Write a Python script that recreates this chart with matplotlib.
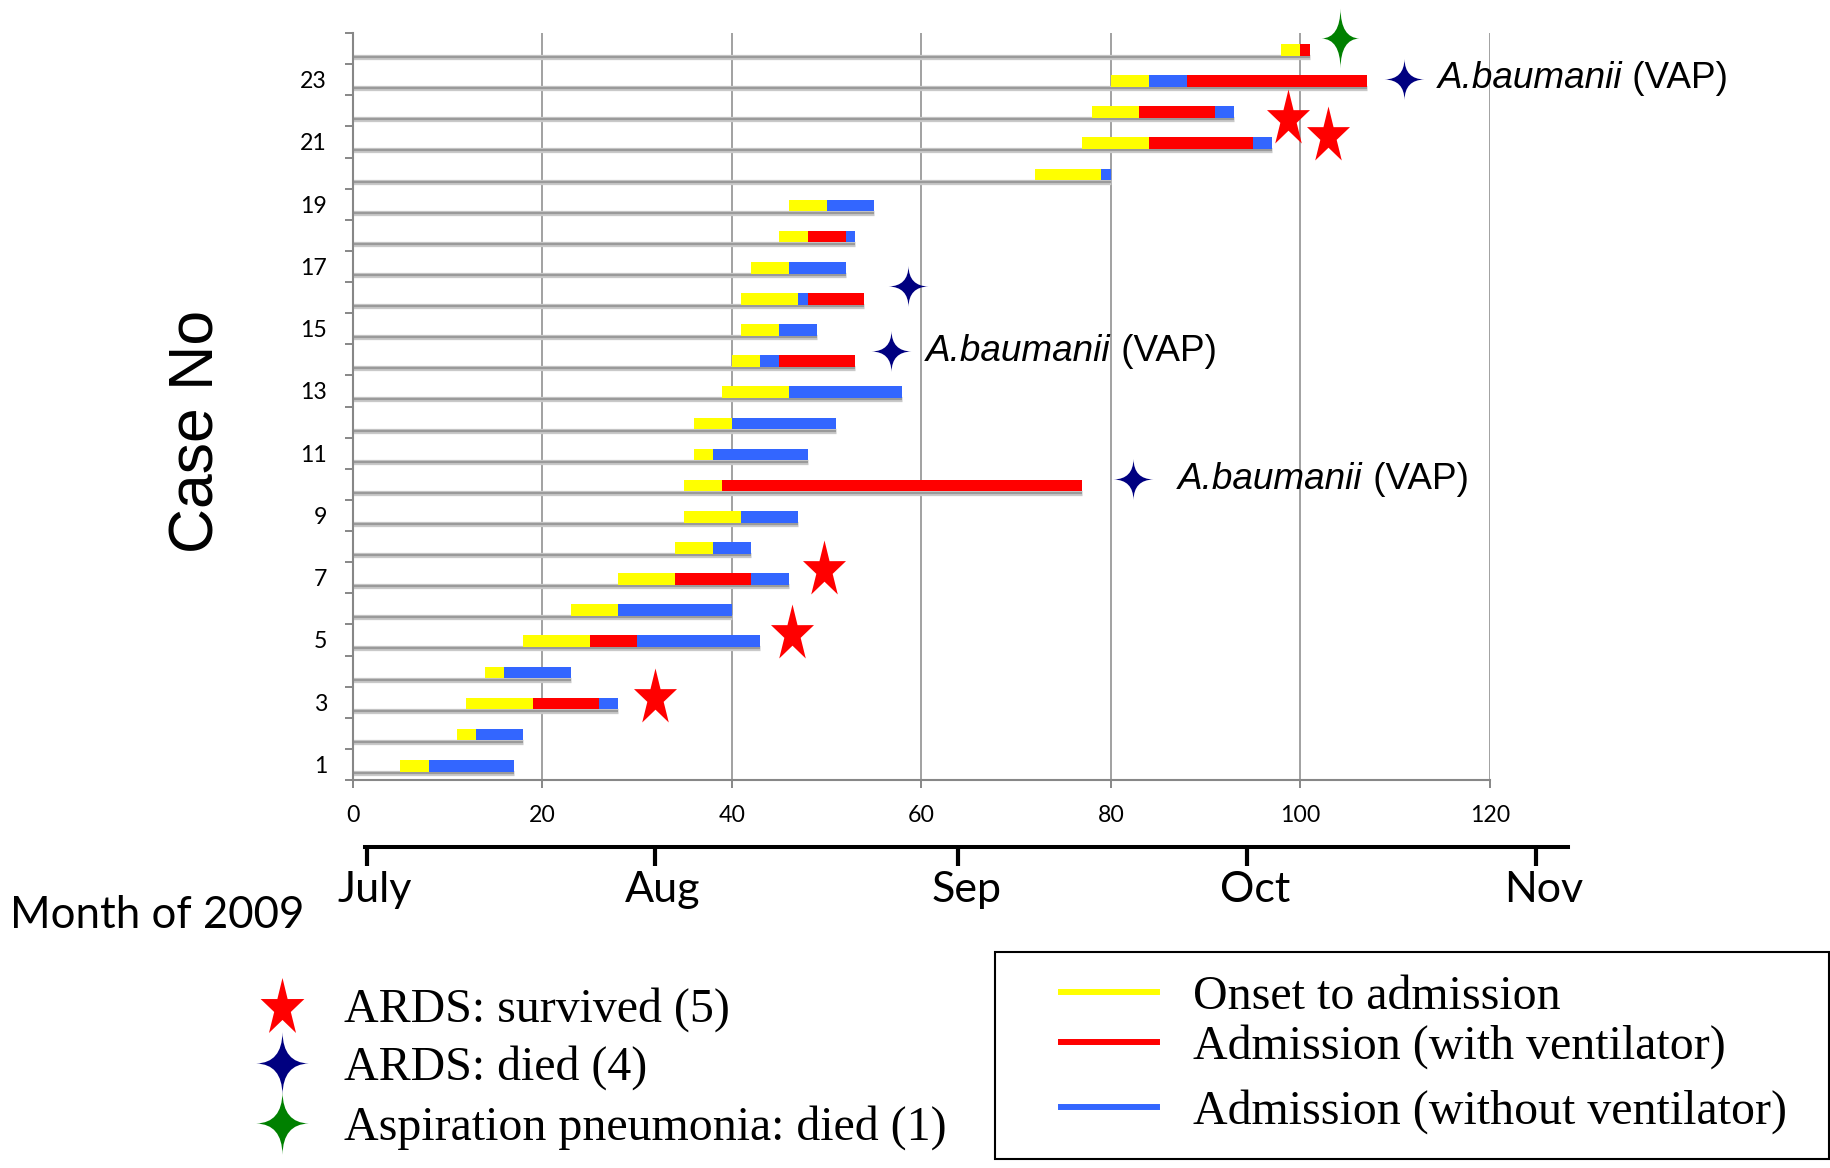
import numpy as np
import matplotlib
matplotlib.use("Agg")
import matplotlib.pyplot as plt
from matplotlib.path import Path
from matplotlib.lines import Line2D
from matplotlib.patches import Rectangle
from matplotlib.transforms import ScaledTranslation

# ---------------- data ----------------
cases = np.arange(1, 25)
onset = [5, 11, 12, 14, 18, 23, 28, 34, 35, 35, 36, 36, 39, 40, 41, 41, 42, 45, 46, 72, 77, 78, 80, 98]
admission = [8, 13, 19, 16, 25, 28, 34, 38, 41, 39, 38, 40, 46, 43, 45, 47, 46, 48, 50, 79, 84, 83, 84, 100]
discharge = [17, 18, 28, 23, 43, 40, 46, 42, 47, 77, 48, 51, 58, 53, 49, 54, 52, 53, 55, 80, 97, 93, 107, 101]
nan = np.nan
vent_start = [nan, nan, 19, nan, 25, nan, 34, nan, nan, 39, nan, nan, nan, 45, nan, 48, nan, 48, nan, nan, 84, 83, 88, 100]
vent_end = [nan, nan, 26, nan, 30, nan, 42, nan, nan, 77, nan, nan, nan, 53, nan, 54, nan, 52, nan, nan, 95, 91, 107, 101]

ytick_cases = [1, 3, 5, 7, 9, 11, 13, 15, 17, 19, 21, 23]
xtick_days = [0, 20, 40, 60, 80, 100, 120]
month_days = [1.5, 31.9, 63.9, 94.3, 124.8]
month_labels = ["July", "Aug", "Sep", "Oct", "Nov"]

ards_survived_x = [31.9, 46.3, 49.7, 98.7, 102.9]
ards_survived_y = [3.22, 5.28, 7.34, 21.82, 21.28]
ards_died_x = [56.8, 58.6, 82.3, 110.9]
ards_died_y = [14.27, 16.36, 10.17, 23.03]
aspiration_x = [104.2]
aspiration_y = [24.35]
vap_x = [60.5, 87.1, 114.5]
vap_y = [14.27, 10.17, 23.03]

marker_legend_labels = ["ARDS: survived (5)", "ARDS: died (4)", "Aspiration pneumonia: died (1)"]
bar_legend_labels = ["Onset to admission", "Admission (with ventilator)", "Admission (without ventilator)"]

YELLOW = "#FFFF00"
RED = "#FF0000"
BLUE = "#3366FF"
NAVY = "#000080"
GREEN = "#008000"
GRAY = "#878787"

onset = np.array(onset, float)
admission = np.array(admission, float)
discharge = np.array(discharge, float)
vent_start = np.array(vent_start, float)
vent_end = np.array(vent_end, float)


# ---------------- marker shapes ----------------
def star5(aspect=1.25, inner=0.38):
    k = np.arange(10)
    ang = np.pi / 2 + k * np.pi / 5
    r = np.where(k % 2 == 0, 1.0, inner)
    x = r * np.cos(ang)
    y = r * np.sin(ang)
    w = x.max() - x.min()
    h = y.max() - y.min()
    y = y * (aspect * w / h)
    y = y - (y.max() + y.min()) / 2
    verts = np.column_stack([np.append(x, x[0]), np.append(y, y[0])])
    codes = [Path.MOVETO] + [Path.LINETO] * 9 + [Path.CLOSEPOLY]
    return Path(verts, codes)


def sparkle(aspect=1.0, c=0.02):
    a = aspect
    verts = [(0, a), (c, c * a), (1, 0), (c, -c * a), (0, -a), (-c, -c * a),
             (-1, 0), (-c, c * a), (0, a)]
    codes = [Path.MOVETO] + [Path.CURVE3] * 8
    return Path(verts, codes)


red_star = star5(1.256, 0.38)
blue_spark = sparkle(1.03)
green_spark = sparkle(1.58)
legend_spark = sparkle(1.19)

# ---------------- figure ----------------
W, H = 1831, 1168
fig = plt.figure(figsize=(W / 100, H / 100), dpi=100)

px_left, px_right = 352.7, 1490.0
px_top, px_bottom = 33.0, 780.0
ax = fig.add_axes([px_left / W, 1 - px_bottom / H, (px_right - px_left) / W, (px_bottom - px_top) / H])
ax.set_xlim(0, 120)
ax.set_ylim(0.5, 24.5)

# shadows (baseline strokes)
ax.hlines(cases - 0.275, 0, discharge, colors="#c9c9c9", lw=3.8, zorder=2, capstyle="butt")
ax.hlines(cases - 0.275, 0, discharge, colors="#9a9a9a", lw=1.6, zorder=2, capstyle="butt")

bh = 0.375
yc = cases - 0.043
ax.barh(yc, admission - onset, left=onset, height=bh, color=YELLOW, lw=0, zorder=3)
ax.barh(yc, discharge - admission, left=admission, height=bh, color=BLUE, lw=0, zorder=3)
m = ~np.isnan(vent_start)
ax.barh(yc[m], (vent_end - vent_start)[m], left=vent_start[m], height=bh, color=RED, lw=0, zorder=4)

# markers
ax.plot(ards_survived_x, ards_survived_y, ls="none", marker=red_star, ms=38.9, color=RED,
        mew=0, zorder=6, clip_on=False)
ax.plot(ards_died_x, ards_died_y, ls="none", marker=blue_spark, ms=29.5, color=NAVY,
        mew=0, zorder=6, clip_on=False)
ax.plot(aspiration_x, aspiration_y, ls="none", marker=green_spark, ms=43, color=GREEN,
        mew=0, zorder=6, clip_on=False)
for x, y in zip(vap_x, vap_y):
    t = ax.text(x, y, "A.baumanii", fontsize=26.6, family="Liberation Sans", style="italic",
                ha="left", va="center", zorder=6, clip_on=False)
    ax.annotate(" (VAP)", xy=(1, 0), xycoords=t, ha="left", va="bottom",
                fontsize=26.6, family="Liberation Sans", zorder=6, annotation_clip=False)

# axes styling
for s in ["top", "right"]:
    ax.spines[s].set_visible(False)
for s in ["left", "bottom"]:
    ax.spines[s].set_color(GRAY)
    ax.spines[s].set_linewidth(1.5)
ax.grid(axis="x", color=GRAY, lw=1.1)
ax.set_axisbelow(True)

ax.set_xticks(xtick_days)
ax.set_xticklabels([str(v) for v in xtick_days], fontsize=16.7, fontfamily="Lato")
ax.tick_params(axis="x", length=5.8, width=1.4, color=GRAY, pad=12)

ax.set_yticks(ytick_cases)
ax.set_yticklabels([str(v) for v in ytick_cases], fontsize=16.7, fontfamily="Lato")
ax.tick_params(axis="y", which="major", length=0, pad=18.5)
ax.set_yticks(np.arange(0.5, 25, 1.0), minor=True)
ax.tick_params(axis="y", which="minor", length=5.8, width=1.4, color=GRAY)

fig.text(197 / W, 1 - 431 / H, "Case No", rotation=90, ha="center", va="center",
         fontsize=45, family="Liberation Sans")

# month axis
mx_max = (1568 - px_left) / 9.48
mx = fig.add_axes([px_left / W, 1 - 846.7 / H, mx_max * 9.48 / W, 0.0001])
mx.set_xlim(0, mx_max)
mx.set_ylim(0, 1)
for s in ["top", "left", "right"]:
    mx.spines[s].set_visible(False)
mx.spines["bottom"].set_bounds(1.3, mx_max)
mx.spines["bottom"].set_linewidth(2.9)
mx.spines["bottom"].set_color("black")
mx.set_yticks([])
mx.set_xticks(month_days)
mx.set_xticklabels(month_labels, fontsize=31, fontfamily="Lato")
mx.tick_params(axis="x", length=13.7, width=3.0, color="black", pad=4)
shift = ScaledTranslation(8 / 100, 0, fig.dpi_scale_trans)
for lab in mx.get_xticklabels():
    lab.set_transform(lab.get_transform() + shift)
mx.patch.set_visible(False)

fig.text(10 / W, 1 - 928 / H, "Month of 2009", fontsize=31.5, family="Lato",
         ha="left", va="baseline")

# legends (one row each, so each row sits where the reference puts it)
serif = {"family": "Liberation Serif", "size": 34.5}
marker_handles = [
    Line2D([], [], ls="none", marker=red_star, ms=39.6, color=RED, mew=0),
    Line2D([], [], ls="none", marker=legend_spark, ms=45, color=NAVY, mew=0),
    Line2D([], [], ls="none", marker=legend_spark, ms=45, color=GREEN, mew=0),
]
marker_rows_px = [1010, 1068, 1128]
for hnd, lab, ypx in zip(marker_handles, marker_legend_labels, marker_rows_px):
    fig.legend([hnd], [lab], loc="center left", bbox_to_anchor=(258 / W, 1 - ypx / H),
               frameon=False, prop=serif, handlelength=1.0, handletextpad=0.79,
               borderpad=0, borderaxespad=0)

bar_handles = [Line2D([], [], color=YELLOW, lw=4.3),
               Line2D([], [], color=RED, lw=4.3),
               Line2D([], [], color=BLUE, lw=4.3)]
bar_rows_px = [997, 1047, 1112]
for hnd, lab, ypx in zip(bar_handles, bar_legend_labels, bar_rows_px):
    fig.legend([hnd], [lab], loc="center left", bbox_to_anchor=(1061 / W, 1 - ypx / H),
               frameon=False, prop=serif, handlelength=2.0, handletextpad=0.75,
               borderpad=0, borderaxespad=0)
fig.add_artist(Rectangle((995 / W, 1 - 1159 / H), 834 / W, 207 / H, transform=fig.transFigure,
                         fill=False, ec="black", lw=1.5))

fig.savefig("out.png", dpi=100)
